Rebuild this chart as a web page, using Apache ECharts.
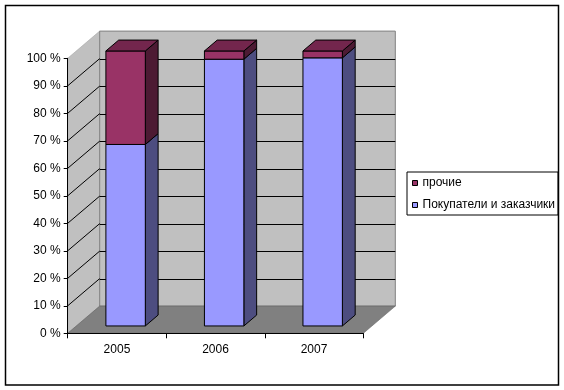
<!DOCTYPE html>
<html>
<head>
<meta charset="utf-8">
<script src="https://cdn.jsdelivr.net/npm/echarts@6/dist/echarts.min.js"></script>
<style>
  html, body { margin: 0; padding: 0; background: #fff; }
  #chart { width: 564px; height: 390px; }
</style>
</head>
<body>
<div id="chart"></div>
<script>
// ---- data ----
const categories = ['2005', '2006', '2007'];
const buyers = [66, 97, 97.5];      // Покупатели и заказчики, %
const others = [34, 3, 2.5];        // прочие, %
const yTicks = [0, 10, 20, 30, 40, 50, 60, 70, 80, 90, 100];
const gridLevels = [10, 20, 30, 40, 50, 60, 70, 80, 90];
const nameBuyers = 'Покупатели и заказчики';
const nameOthers = 'прочие';

// ---- 3D look (style constants) ----
const DX = 32, DY = -27.2;       // full depth vector
const F1 = 0.27, F2 = 0.67;      // bar front / back depth fraction
const BAR_FRAC = 0.4;            // bar width relative to category band
const FONT = '"Liberation Sans", Arial, sans-serif';

const buyersData = categories.map((c, i) => [i, 0, buyers[i]]);
const othersData = categories.map((c, i) => [i, buyers[i], buyers[i] + others[i]]);

function barRenderer(front, side, top, isTop) {
  return function (params, api) {
    const cat = api.value(0);
    const p0 = api.coord([cat, api.value(1)]);
    const p1 = api.coord([cat, api.value(2)]);
    const bw = api.size([1, 0])[0] * BAR_FRAC;
    const x0 = p0[0] - bw / 2 + F1 * DX;
    const x1 = x0 + bw;
    const yb = p0[1] + F1 * DY;
    const yt = p1[1] + F1 * DY;
    const bdx = (F2 - F1) * DX, bdy = (F2 - F1) * DY;
    const stroke = { stroke: '#000', lineWidth: 1, lineJoin: 'round' };
    const children = [
      { type: 'polygon', shape: { points: [[x1, yt], [x1 + bdx, yt + bdy], [x1 + bdx, yb + bdy], [x1, yb]] },
        style: Object.assign({ fill: side }, stroke) },
      { type: 'rect', shape: { x: x0, y: yt, width: bw, height: yb - yt },
        style: Object.assign({ fill: front }, stroke) }
    ];
    if (isTop) {
      children.push({ type: 'polygon', shape: { points: [[x0, yt], [x1, yt], [x1 + bdx, yt + bdy], [x0 + bdx, yt + bdy]] },
        style: Object.assign({ fill: top }, stroke) });
    }
    return { type: 'group', children: children };
  };
}

const chart = echarts.init(document.getElementById('chart'), null, { renderer: 'canvas' });
chart.setOption({
  animation: false,
  backgroundColor: '#fff',
  textStyle: { fontFamily: FONT },
  grid: { left: 67.7, top: 58.3, width: 295.6, height: 275, containLabel: false },
  xAxis: {
    type: 'category', data: categories, boundaryGap: true, z: 5,
    axisLine: { show: true, lineStyle: { color: '#000', width: 1 } },
    axisTick: { show: true, length: 5, lineStyle: { color: '#000' } },
    axisLabel: { color: '#000', fontSize: 12, fontFamily: FONT, margin: 10 },
    splitLine: { show: false }
  },
  yAxis: {
    type: 'value', min: 0, max: 100, interval: 10, z: 5,
    axisLine: { show: true, lineStyle: { color: '#000', width: 1 } },
    axisTick: { show: true, length: 4, lineStyle: { color: '#000' } },
    axisLabel: { color: '#000', fontSize: 12, fontFamily: FONT, margin: 7, formatter: v => v + ' %' },
    splitLine: { show: false }
  },
  legend: {
    data: [nameOthers, nameBuyers],
    orient: 'vertical',
    left: 407, top: 172,
    padding: [4, 3, 3, 5],
    itemGap: 8,
    itemWidth: 5, itemHeight: 5,
    itemTextGap: 3,
    icon: 'rect',
    borderColor: '#000', borderWidth: 1,
    selectedMode: false,
    itemStyle: { borderColor: '#000', borderWidth: 1 },
    textStyle: { color: '#000', fontSize: 12, fontFamily: FONT, lineHeight: 14 }
  },
  graphic: [{
    type: 'rect', z: 100,
    shape: { x: 5.5, y: 5.5, width: 553, height: 379.5 },
    style: { fill: null, stroke: '#000', lineWidth: 1.5 }
  }],
  series: [
    {
      type: 'custom', name: 'walls', z: 1, silent: true,
      data: [[0, 0]],
      renderItem: function (params, api) {
        const cs = params.coordSys;
        const yb = api.coord([0, yTicks[0]])[1];
        const yt = api.coord([0, yTicks[yTicks.length - 1]])[1];
        const xl = cs.x, xr = cs.x + cs.width;
        return { type: 'group', children: [
          { type: 'polygon', shape: { points: [[xl, yb], [xl + DX, yb + DY], [xl + DX, yt + DY], [xl, yt]] },
            style: { fill: '#c0c0c0', stroke: '#a8a8a8', lineWidth: 0.6 } },
          { type: 'rect', shape: { x: xl + DX, y: yt + DY, width: xr - xl, height: yb - yt },
            style: { fill: '#c0c0c0', stroke: '#808080', lineWidth: 1 } },
          { type: 'polygon', shape: { points: [[xl, yb], [xr, yb], [xr + DX, yb + DY], [xl + DX, yb + DY]] },
            style: { fill: '#808080', stroke: '#606060', lineWidth: 0.6 } }
        ] };
      }
    },
    {
      type: 'custom', name: 'gridlines', z: 2, silent: true,
      data: gridLevels.map(v => [0, v]),
      renderItem: function (params, api) {
        const cs = params.coordSys;
        const y = api.coord([0, api.value(1)])[1];
        const xl = cs.x, xr = cs.x + cs.width;
        return { type: 'group', children: [
          { type: 'line', shape: { x1: xl, y1: y, x2: xl + DX, y2: y + DY }, style: { stroke: '#000', lineWidth: 1 } },
          { type: 'line', shape: { x1: xl + DX, y1: Math.round(y + DY) + 0.5, x2: xr + DX, y2: Math.round(y + DY) + 0.5 }, style: { stroke: '#000', lineWidth: 1 } }
        ] };
      }
    },
    {
      type: 'custom', name: nameBuyers, z: 3,
      itemStyle: { color: '#9999ff' },
      encode: { x: 0, y: [1, 2] },
      data: buyersData,
      renderItem: barRenderer('#9999ff', '#4d4d80', '#7373bf', false)
    },
    {
      type: 'custom', name: nameOthers, z: 4,
      itemStyle: { color: '#993366' },
      encode: { x: 0, y: [1, 2] },
      data: othersData,
      renderItem: barRenderer('#993366', '#4d1a33', '#73264d', true)
    }
  ]
});
</script>
</body>
</html>
